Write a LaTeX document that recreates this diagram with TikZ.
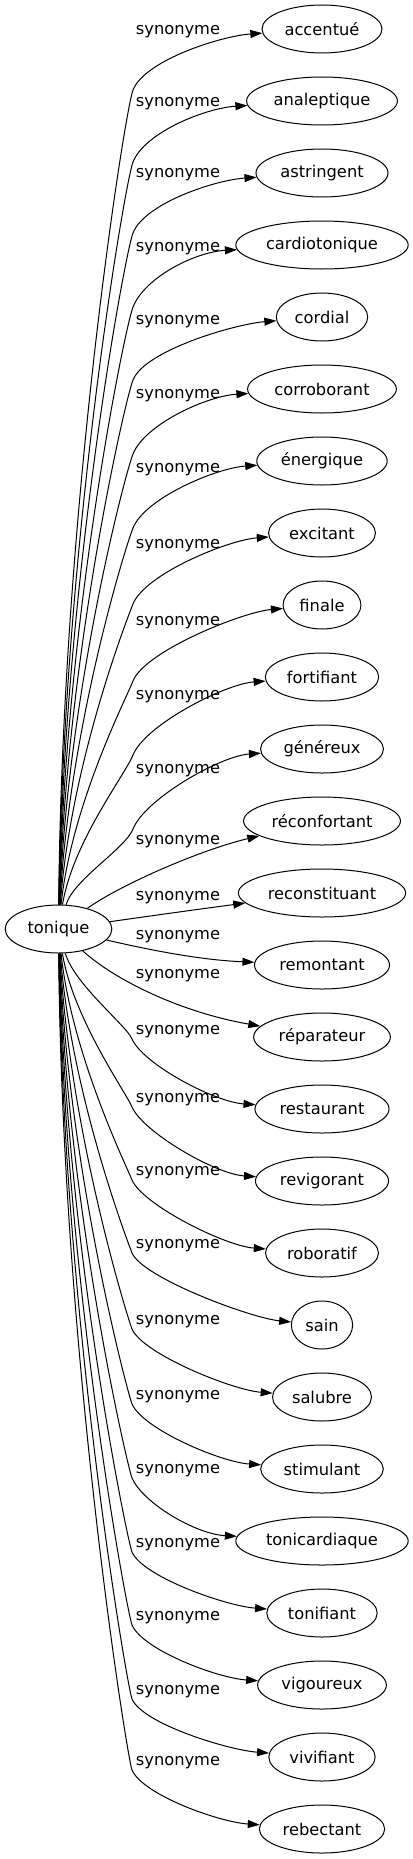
\documentclass[tikz,border=0pt]{standalone}
\usepackage{fontspec}
\setmainfont{DejaVu Sans}
\usetikzlibrary{arrows.meta,shapes.geometric,calc}
\tikzstyle{wordNode} = [ellipse, draw=black, line width=0.75pt, minimum height=36pt, inner xsep=3.75pt, inner ysep=1pt, font=\fontsize{12.2}{14}\selectfont]
\tikzstyle{synLabel} = [inner sep=0pt, font=\fontsize{12.2}{14}\selectfont]
\tikzstyle{synArrow} = [line width=0.75pt, -{Triangle[length=9pt,width=6pt]}, draw=black]

\begin{document}
\begin{tikzpicture}[x=0.75pt, y=-0.75pt]
        \useasboundingbox (0,0) rectangle (413,1859);
        % the word and its synonyms
        \node (tonique) [wordNode, minimum width=80pt] at (58.5,929) {tonique};
        \foreach \nm/\w [count=\i from 0] in {accentue/accentué, analeptique/analeptique, astringent/astringent,
            cardiotonique/cardiotonique, cordial/cordial, corroborant/corroborant, energique/énergique,
            excitant/excitant, finale/finale, fortifiant/fortifiant, genereux/généreux, reconfortant/réconfortant,
            reconstituant/reconstituant, remontant/remontant, reparateur/réparateur, restaurant/restaurant,
            revigorant/revigorant, roboratif/roboratif, sain/sain, salubre/salubre, stimulant/stimulant,
            tonicardiaque/tonicardiaque, tonifiant/tonifiant, vigoureux/vigoureux, vivifiant/vivifiant, rebectant/rebectant}
            \node (\nm) [wordNode] at (322,29+72*\i) {\w};

        % upper edges, bent near the labels
        \foreach \nm/\ly [count=\i from 0] in {accentue/32, analeptique/104, astringent/175, cardiotonique/249,
            cordial/322, corroborant/396, energique/470, excitant/546, finale/623, fortifiant/697, genereux/771}{
            \pgfmathsetmacro{\by}{\ly+58}
            \pgfmathsetmacro{\my}{(929+\by)/2}
            \draw [synArrow] (tonique) .. controls (62+1.2*\i,\my) and (125,\by+20) .. (133,\by)
                .. controls (145,\by-30) and ($(\nm.west)+(-40,7)$) .. (\nm)
                node [synLabel] at (178,\ly) {synonyme};
        }

        % middle edges
        \draw [synArrow] (tonique) .. controls (120,885) and (200,850) .. (reconfortant) node [synLabel] at (178,842) {synonyme};
        \draw [synArrow] (tonique) .. controls (150,916) and (200,909) .. (reconstituant) node [synLabel] at (178,898) {synonyme};
        \draw [synArrow] (tonique) .. controls (150,950) and (200,960) .. (remontant) node [synLabel] at (178,937) {synonyme};
        \draw [synArrow] (tonique) .. controls (115,980) and (180,1012) .. (reparateur) node [synLabel] at (178,976) {synonyme};

        % lower edges
        \foreach \nm/\ly [count=\i from 0] in {restaurant/1032, revigorant/1100, roboratif/1173, sain/1246, salubre/1322,
            stimulant/1397, tonicardiaque/1471, tonifiant/1545, vigoureux/1618, vivifiant/1692, rebectant/1763}{
            \pgfmathsetmacro{\by}{\ly+7}
            \pgfmathsetmacro{\my}{(929+\by)/2}
            \draw [synArrow] (tonique) .. controls (74-1.2*\i,\my) and (127,\by-13) .. (132,\by)
                .. controls (143,\by+25) and ($(\nm.west)+(-40,-7)$) .. (\nm)
                node [synLabel] at (178,\ly) {synonyme};
        }
\end{tikzpicture}
\end{document}
